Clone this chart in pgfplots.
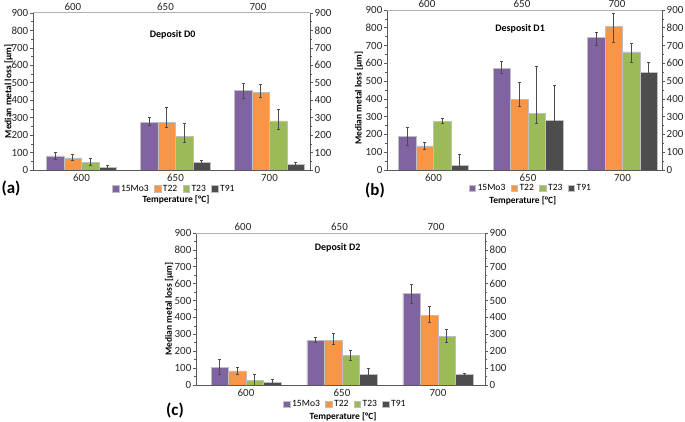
\documentclass[border=0pt]{standalone}
\usepackage{pgfplots}
\pgfplotsset{compat=1.18}
\usepackage{pgfplotstable}
\usepackage{fontspec}
\setmainfont{Carlito}
\definecolor{cA}{HTML}{8064A2}
\definecolor{cB}{HTML}{F79646}
\definecolor{cC}{HTML}{9BBB59}
\definecolor{cD}{HTML}{4D4D4D}
\definecolor{barline}{HTML}{BFBFBF}
\definecolor{axline}{HTML}{595959}

\pgfplotstableread{
x  a   ap  am  b   bp  bm  c   cp  cm  d   dp  dm
0  81  19  22  70  20  16  45  22  19  15  14  10
1  272 28  15  274 88  29  191 76  35  44  12  38
2  456 43  43  445 45  29  281 68  47  34  10  6
}\tabDzero
\pgfplotstableread{
x  a   ap  am  b   bp  bm  c   cp  cm  d   dp  dm
0  191 49  52  135 21  19  275 15  12  28  61  25
1  572 38  28  396 97  40  320 266 58  280 198 17
2  744 31  45  806 75  90  665 47  58  551 53  29
}\tabDone
\pgfplotstableread{
x  a   ap  am  b   bp  bm  c   cp  cm  d   dp  dm
0  103 49  40  83  22  18  28  37  28  14  20  14
1  264 18  13  264 40  25  174 33  26  65  34  20
2  543 53  59  412 52  43  286 46  35  63  6   6
}\tabDtwo

\pgfplotsset{
  base/.style={
    scale only axis, ymin=0, ymax=900, ytick={0,100,...,900},
    minor y tick num=1, tick align=outside,
    major tick length=3bp, minor tick length=2bp,
    /pgf/number format/assume math mode=true,
    tick label style={font=\fontsize{11}{13}\selectfont, text=black!85},
    yticklabel style={inner sep=1.5bp},
    xtick={0,1,2}, xticklabels={600,650,700},
    x tick style={draw=none},
    y tick style={axline, line width=0.6bp},
    axis line style={-, axline, line width=0.8bp},
  },
  mainax/.style={
    base, axis x line*=bottom, axis y line*=left,
    xticklabel style={inner sep=1bp},
    ybar=0pt, bar width=17.5bp,
    ylabel={Median metal loss [µm]},
    ylabel style={font=\bfseries\fontsize{9.5}{11}\selectfont, inner sep=0pt},
    xlabel={Temperature [°C]},
    xlabel style={font=\bfseries\fontsize{9.5}{11}\selectfont, inner sep=0pt,
      text height=6.8bp, text depth=1.8bp},
    legend columns=4,
    legend image code/.code={\fill[##1] (0bp,-3.3bp) rectangle (6.6bp,3.3bp);},
  },
  secax/.style={
    base, axis x line*=top, axis y line*=right,
    x axis line style={-, gray!60, line width=1bp},
    xticklabel style={yshift=-4bp},
  },
  errst/.style={
    /pgfplots/error bars/y dir=both,
    /pgfplots/error bars/y explicit,
    /pgfplots/error bars/error bar style={line width=0.6bp, black!70},
    /pgfplots/error bars/error mark options={rotate=90, mark size=1.5bp, line width=0.6bp, black!70},
  },
  legst/.style={legend style={at={(#1)}, anchor=center, draw=none, fill=none,
    font=\fontsize{9.6}{11}\selectfont, inner sep=0pt,
    nodes={inner sep=0.3bp, text height=6.6bp, text depth=1.6bp},
    /tikz/every odd column/.append style={column sep=1.5bp},
    /tikz/every even column/.append style={column sep=5bp}}},
}

\newcommand{\bars}[1]{%
  \addplot[fill=cA, draw=barline, line width=0.5bp, errst] table[x=x, y=a, y error plus=ap, y error minus=am]{#1};
  \addplot[fill=cB, draw=barline, line width=0.5bp, errst] table[x=x, y=b, y error plus=bp, y error minus=bm]{#1};
  \addplot[fill=cC, draw=barline, line width=0.5bp, errst] table[x=x, y=c, y error plus=cp, y error minus=cm]{#1};
  \addplot[fill=cD, draw=barline, line width=0.5bp, errst] table[x=x, y=d, y error plus=dp, y error minus=dm]{#1};
  \legend{15Mo3, T22, T23, T91}
}

\begin{document}
\begin{tikzpicture}
\path[use as bounding box] (0,0) rectangle (685bp,422bp);

% ---------- (a)
\begin{axis}[mainax, at={(33bp,252bp)}, width=277bp, height=157bp,
  xmin=-0.516, xmax=2.431, legst={0.507,-0.118},
  xlabel style={at={(axis description cs:0.516,-0.19)}, anchor=center},
  ylabel style={at={(axis description cs:-0.088,0.5)}, anchor=center}]
  \bars{\tabDzero}
  \node[font=\bfseries\fontsize{10}{11}\selectfont] at (rel axis cs:0.504,0.86) {Deposit D0};
\end{axis}
\begin{axis}[secax, at={(33bp,252bp)}, width=277bp, height=157bp,
  xmin=-0.432, xmax=2.562]
\end{axis}

% ---------- (b)
\begin{axis}[mainax, at={(387bp,252bp)}, width=275bp, height=160bp,
  xmin=-0.492, xmax=2.418, legst={0.52,-0.114},
  xlabel style={at={(axis description cs:0.494,-0.196)}, anchor=center},
  ylabel style={at={(axis description cs:-0.102,0.45)}, anchor=center}]
  \bars{\tabDone}
  \node[font=\bfseries\fontsize{10}{11}\selectfont] at (rel axis cs:0.484,0.88) {Desposit D1};
\end{axis}
\begin{axis}[secax, at={(387bp,252bp)}, width=275bp, height=160bp,
  xmin=-0.421, xmax=2.474]
\end{axis}

% ---------- (c)
\begin{axis}[mainax, at={(196bp,37bp)}, width=289bp, height=152bp,
  xmin=-0.521, xmax=2.49, legst={0.514,-0.127},
  xlabel style={at={(axis description cs:0.509,-0.209)}, anchor=center},
  ylabel style={at={(axis description cs:-0.093,0.5)}, anchor=center}]
  \bars{\tabDtwo}
  \node[font=\bfseries\fontsize{10}{11}\selectfont] at (rel axis cs:0.49,0.90) {Deposit D2};
\end{axis}
\begin{axis}[secax, at={(196bp,37bp)}, width=289bp, height=152bp,
  xmin=-0.487, xmax=2.508]
\end{axis}

\node[font=\bfseries\fontsize{17}{20}\selectfont] at (11bp,234bp) {(a)};
\node[font=\bfseries\fontsize{17}{20}\selectfont] at (375bp,232bp) {(b)};
\node[font=\bfseries\fontsize{17}{20}\selectfont] at (175bp,12bp) {(c)};
\end{tikzpicture}
\end{document}
